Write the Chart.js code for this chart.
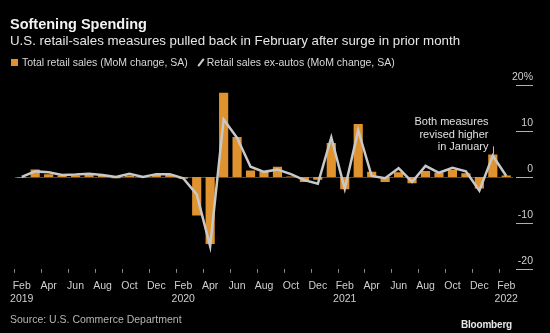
<!DOCTYPE html>
<html>
<head>
<meta charset="utf-8">
<script src="https://cdn.jsdelivr.net/npm/chart.js@4"></script>
<style>
  html, body { margin: 0; padding: 0; background: #000; }
  #wrap { position: relative; width: 550px; height: 333px; background: #000; overflow: hidden;
          font-family: "Liberation Sans", Arial, sans-serif; color: #e6e6e6; }
  #chartBox { position: absolute; left: 0; top: 0; width: 550px; height: 333px; }
  .title { position: absolute; left: 10px; top: 16px; font-size: 14.5px; font-weight: bold; color: #f2f2f2; }
  .subtitle { position: absolute; left: 10px; top: 33px; font-size: 13.3px; color: #e6e6e6; }
  .legend { position: absolute; left: 11px; top: 56px; font-size: 10.5px; color: #d8d8d8; white-space: nowrap; }
  .legend .sq { display: inline-block; width: 7px; height: 7px; background: #e0922e; margin-right: 4px; vertical-align: 0px; }
  .legend .sl { display: inline-block; width: 2px; height: 9px; background: #cfcfcf; transform: rotate(38deg);
                margin: 0 5px 0 12px; vertical-align: -1px; }
  .source { position: absolute; left: 10px; top: 313px; font-size: 10.5px; color: #b5b5b5; }
  .brand { position: absolute; right: 38px; top: 319px; font-size: 10px; font-weight: bold; color: #e6e6e6; letter-spacing: -0.2px; }
</style>
</head>
<body>
<div id="wrap">
  <div id="chartBox"><canvas id="myChart"></canvas></div>
  <div class="title">Softening Spending</div>
  <div class="subtitle">U.S. retail-sales measures pulled back in February after surge in prior month</div>
  <div class="legend"><span class="sq"></span>Total retail sales (MoM change, SA)<span class="sl"></span>Retail sales ex-autos (MoM change, SA)</div>
  <div class="source">Source: U.S. Commerce Department</div>
  <div class="brand">Bloomberg</div>
</div>
<script>
let months = [
    "Feb 2019", "Mar 2019", "Apr 2019", "May 2019", "Jun 2019", "Jul 2019", "Aug 2019", "Sep 2019",
    "Oct 2019", "Nov 2019", "Dec 2019", "Jan 2020", "Feb 2020", "Mar 2020", "Apr 2020", "May 2020",
    "Jun 2020", "Jul 2020", "Aug 2020", "Sep 2020", "Oct 2020", "Nov 2020", "Dec 2020", "Jan 2021",
    "Feb 2021", "Mar 2021", "Apr 2021", "May 2021", "Jun 2021", "Jul 2021", "Aug 2021", "Sep 2021",
    "Oct 2021", "Nov 2021", "Dec 2021", "Jan 2022", "Feb 2022"
];

// MoM % change, seasonally adjusted
let totalSales = [
    -0.2, 1.6, 0.6, 0.3, 0.3, 0.6, 0.4, -0.3,
    0.3, 0.2, 0.4, 0.6, -0.4, -8.4, -14.6, 18.3,
    8.7, 1.4, 1.1, 2.2, 0.1, -1.1, -0.6, 7.4,
    -2.7, 11.5, 1.1, -1.1, 1.0, -1.4, 1.3, 0.9,
    1.5, 0.8, -2.5, 4.9, 0.3
];
let exAutos = [
    0.0, 1.2, 1.0, 0.4, 0.5, 0.7, 0.4, 0.0,
    0.7, 0.0, 0.6, 0.6, -0.3, -3.8, -15.1, 12.5,
    8.5, 2.2, 1.1, 1.6, 0.6, -0.7, -1.5, 8.6,
    -2.6, 10.1, 0.2, -0.3, 1.9, -1.1, 2.4, 0.9,
    2.0, 1.2, -3.0, 4.6, 0.2
];
let yTicks = [20, 10, 0, -10, -20];

let note = ["Both measures", "revised higher", "in January"];
let noteMonth = "Jan 2022";

let fontFamily = '"Liberation Sans", Arial, sans-serif';

let decor = {
    id: "decor",
    beforeDatasetsDraw(chart) {
        let c = chart.ctx, area = chart.chartArea, y = chart.scales.y;
        let y0 = Math.round(y.getPixelForValue(0)) + 0.5;
        c.save();
        c.strokeStyle = "#4d4d4d";
        c.lineWidth = 1;
        c.beginPath();
        c.moveTo(area.left, y0);
        c.lineTo(area.right, y0);
        c.stroke();
        c.restore();
    },
    afterDraw(chart) {
        let c = chart.ctx, area = chart.chartArea, x = chart.scales.x, y = chart.scales.y;
        c.save();
        // right-hand value axis: short rules with labels sitting above them
        c.font = "10.5px " + fontFamily;
        c.textAlign = "right";
        c.textBaseline = "alphabetic";
        yTicks.forEach(function (v) {
            let py = Math.round(y.getPixelForValue(v)) + 0.5;
            c.strokeStyle = "#b0b0b0";
            c.lineWidth = 1;
            c.beginPath();
            c.moveTo(area.right + 3, py);
            c.lineTo(area.right + 20, py);
            c.stroke();
            c.fillStyle = "#d0d0d0";
            c.fillText(v === 20 ? v + "%" : String(v), area.right + 20, py - 6);
        });

        // annotation for the January revision
        let i = months.indexOf(noteMonth);
        let px = Math.round(x.getPixelForValue(i)) + 0.5;
        let top = y.getPixelForValue(Math.max(totalSales[i], exAutos[i]));
        c.strokeStyle = "#bdbdbd";
        c.lineWidth = 1;
        c.beginPath();
        c.moveTo(px, top);
        c.lineTo(px, top - 8);
        c.stroke();
        c.font = "11px " + fontFamily;
        c.fillStyle = "#e0e0e0";
        c.textBaseline = "middle";
        note.forEach(function (line, k) {
            c.fillText(line, px - 5, top - 32 + k * 12.2);
        });
        c.restore();
    }
};

let myChart = document.getElementById("myChart").getContext("2d");

let barChart = new Chart(myChart, {
    type: "bar",
    data: {
        labels: months,
        datasets: [{
            label: "Total retail sales (MoM change, SA)",
            data: totalSales,
            backgroundColor: "#e0922e",
            barPercentage: 0.68,
            categoryPercentage: 1.0,
            order: 1
        }, {
            type: "line",
            label: "Retail sales ex-autos (MoM change, SA)",
            data: exAutos,
            borderColor: "#c8c8c8",
            borderWidth: 2.5,
            pointRadius: 0,
            tension: 0,
            order: 0
        }]
    },
    options: {
        responsive: true,
        maintainAspectRatio: false,
        animation: false,
        layout: { padding: { left: 15, right: 37, top: 85, bottom: 21 } },
        plugins: {
            legend: { display: false },
            tooltip: { enabled: false }
        },
        scales: {
            x: {
                border: { display: false },
                grid: {
                    drawOnChartArea: false,
                    drawTicks: true,
                    tickLength: 4,
                    color: function (ctx) { return ctx.index % 2 === 0 ? "#8a8a8a" : "rgba(0,0,0,0)"; }
                },
                ticks: {
                    autoSkip: false,
                    maxRotation: 0,
                    padding: 7,
                    color: "#cfcfcf",
                    font: { family: fontFamily, size: 10.5 },
                    callback: function (val, i) {
                        if (i % 2 !== 0) return "";
                        let parts = months[i].split(" ");
                        return parts[0] === "Feb" ? parts : parts[0];
                    }
                }
            },
            y: {
                display: false,
                min: -20,
                max: 20
            }
        }
    },
    plugins: [decor]
});
</script>
</body>
</html>
